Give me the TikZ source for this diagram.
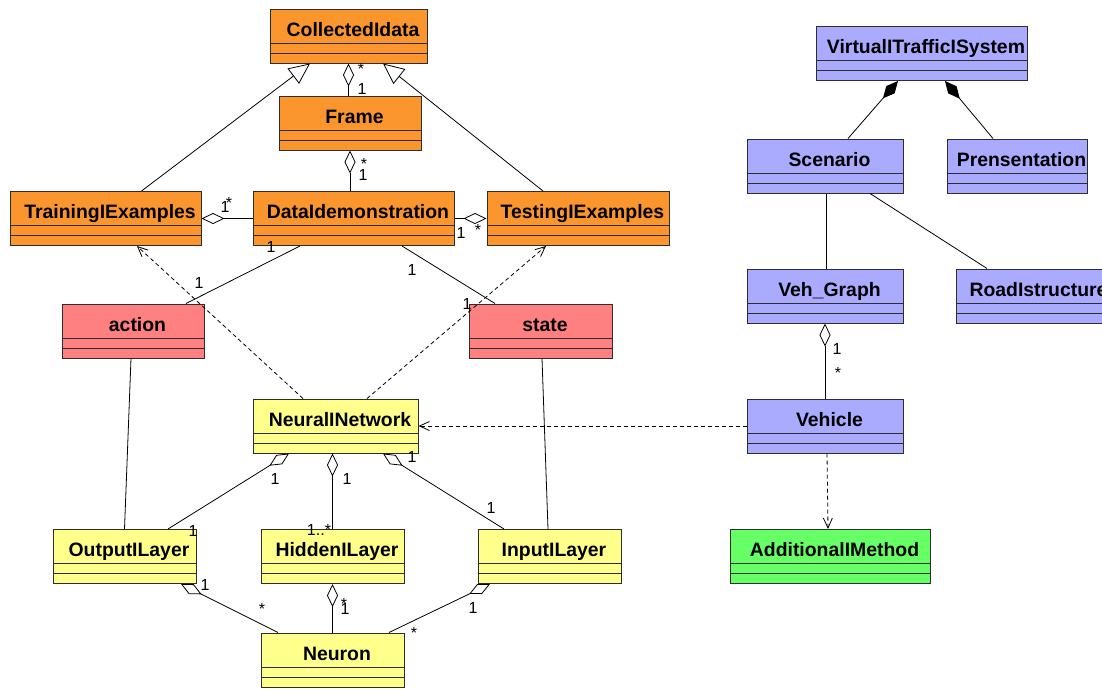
\documentclass[tikz,border=0pt]{standalone}
\usepackage{fontspec}
\setmainfont{Liberation Sans}
\usepackage{xcolor}
\usetikzlibrary{arrows.meta, positioning}
\definecolor{umlorange}{RGB}{250, 150, 45}
\definecolor{umlpink}{RGB}{255, 128, 128}
\definecolor{umlyellow}{RGB}{255, 255, 140}
\definecolor{umlblue}{RGB}{170, 170, 255}
\definecolor{umlgreen}{RGB}{102, 255, 102}
\definecolor{umlborder}{RGB}{45, 45, 45}

\begin{document}
\begin{tikzpicture}[
        x=1pt, y=-1pt,
        cls/.style={rectangle, draw=umlborder, line width=1pt, inner xsep=0pt, inner ysep=0pt,
            text height=27pt, text depth=27pt, font=\fontsize{19.4}{20}\selectfont\bfseries,
            execute at begin node={\hspace*{9pt}},
            path picture={
                \draw[umlborder, line width=1pt] ([yshift=10pt]path picture bounding box.south west) -- ([yshift=10pt]path picture bounding box.south east);
                \draw[umlborder, line width=1pt] ([yshift=20pt]path picture bounding box.south west) -- ([yshift=20pt]path picture bounding box.south east);
            }},
        mult/.style={inner sep=0pt, font=\fontsize{16}{16}\selectfont},
        link/.style={line width=0.8pt},
        gen/.style={link, -{Triangle[open, length=21pt, width=19pt]}},
        agg/.style={link, -{Diamond[open, length=23pt, width=11pt]}},
        comp/.style={link, -{Diamond[length=23pt, width=11pt]}},
        dep/.style={link, dash pattern=on 4pt off 3pt, -{Straight Barb[length=10pt, width=9pt]}}
    ]
        \fill[white] (0,0) rectangle (1102,689);
        \useasboundingbox (0,0) rectangle (1102,689);

        % Collected data
        \node[cls, fill=umlorange, minimum width=157pt] (collected) at (348.5,36) {CollectedIdata};
        \node[cls, fill=umlorange, minimum width=142pt] (frame) at (350,123) {Frame};
        \node[cls, fill=umlorange, minimum width=191pt] (training) at (105.5,218.5) {TrainingIExamples};
        \node[cls, fill=umlorange, minimum width=201pt] (datademo) at (353.5,218.5) {DataIdemonstration};
        \node[cls, fill=umlorange, minimum width=182pt] (testing) at (578,218.5) {TestingIExamples};

        % Action and state
        \node[cls, fill=umlpink, minimum width=142pt] (action) at (133,331) {action};
        \node[cls, fill=umlpink, minimum width=143pt] (state) at (540.5,331) {state};

        % Network
        \node[cls, fill=umlyellow, minimum width=165pt] (nnet) at (335.5,426) {NeuralINetwork};
        \node[cls, fill=umlyellow, minimum width=143pt] (outlayer) at (124.5,556.5) {OutputILayer};
        \node[cls, fill=umlyellow, minimum width=143pt] (hidlayer) at (332.5,556.5) {HiddenILayer};
        \node[cls, fill=umlyellow, minimum width=143pt] (inlayer) at (549.5,556.5) {InputILayer};
        \node[cls, fill=umlyellow, minimum width=143pt] (neuron) at (332.5,660) {Neuron};

        % Traffic system
        \node[cls, fill=umlblue, minimum width=211pt] (vts) at (921.5,53.5) {VirtualITrafficISystem};
        \node[cls, fill=umlblue, minimum width=156pt] (scenario) at (825,166) {Scenario};
        \node[cls, fill=umlblue, minimum width=140pt] (present) at (1017,166) {Prensentation};
        \node[cls, fill=umlblue, minimum width=156pt] (vehgraph) at (825,296) {Veh\_Graph};
        \node[cls, fill=umlblue, minimum width=156pt] (road) at (1034,296) {RoadIstructure};
        \node[cls, fill=umlblue, minimum width=156pt] (vehicle) at (825,426) {Vehicle};
        \node[cls, fill=umlgreen, minimum width=200pt] (addmethod) at (830,556.5) {AdditionalIMethod};

        % Generalizations
        \draw[gen] ([xshift=36pt]training.north) -- ([xshift=-38.5pt]collected.south);
        \draw[gen] ([xshift=-35pt]testing.north) -- ([xshift=34.5pt]collected.south);

        % Aggregations
        \draw[agg] (collected.south |- frame.north) -- (collected.south);
        \draw[agg] (datademo.north -| frame.south) -- (frame.south);
        \draw[agg] (datademo.west) -- (training.east);
        \draw[agg] (datademo.east) -- (testing.west);
        \draw[agg] ([xshift=43.5pt]outlayer.north) -- ([xshift=-46.5pt]nnet.south);
        \draw[agg] (hidlayer.north) -- (hidlayer.north |- nnet.south);
        \draw[agg] ([xshift=-45.5pt]inlayer.north) -- ([xshift=47.5pt]nnet.south);
        \draw[agg] ([xshift=-54.5pt]neuron.north) -- ([xshift=56.5pt]outlayer.south);
        \draw[agg] (neuron.north) -- (neuron.north |- hidlayer.south);
        \draw[agg] ([xshift=56.5pt]neuron.north) -- ([xshift=-59.5pt]inlayer.south);
        \draw[agg] (vehicle.north) -- (vehgraph.south);

        % Compositions
        \draw[comp] ([xshift=23pt]scenario.north) -- ([xshift=-23.5pt]vts.south);
        \draw[comp] ([xshift=-24pt]present.north) -- ([xshift=23.5pt]vts.south);

        % Associations
        \draw[link] ([xshift=-53.5pt]datademo.south) -- ([xshift=53pt]action.north);
        \draw[link] ([xshift=48.5pt]datademo.south) -- ([xshift=-45.5pt]state.north);
        \draw[link] ([xshift=-2pt]action.south) -- (outlayer.north);
        \draw[link] ([xshift=1.5pt]state.south) -- ([xshift=-1.5pt]inlayer.north);
        \draw[link] ([xshift=1pt]scenario.south) -- ([xshift=1pt]vehgraph.north);
        \draw[link] ([xshift=45pt]scenario.south) -- ([xshift=-47pt]road.north);

        % Dependencies
        \draw[dep] ([xshift=-32.5pt]nnet.north) -- ([xshift=31.5pt]training.south);
        \draw[dep] ([xshift=31.5pt]nnet.north) -- ([xshift=-32pt]testing.south);
        \draw[dep] (vehicle.west) -- (nnet.east);
        \draw[dep] ([xshift=2pt]vehicle.south) -- ([xshift=-2pt]addmethod.north);

        % Multiplicities
        \node[mult] (mcf1) at (361,69) {*};
        \node[mult] (mcf2) at (362,89) {1};
        \node[mult] (mfd1) at (364,164) {*};
        \node[mult] (mfd2) at (363,175) {1};
        \node[mult] (mtd1) at (225,207) {1};
        \node[mult] (mtd2) at (229,203) {*};
        \node[mult] (mdt1) at (461,233) {1};
        \node[mult] (mdt2) at (478,230) {*};
        \node[mult] (mda1) at (271,247) {1};
        \node[mult] (mda2) at (199,283) {1};
        \node[mult] (mds1) at (412,270) {1};
        \node[mult] (mds2) at (467,304) {1};
        \node[mult] (mno1) at (275,479) {1};
        \node[mult] (mno2) at (193,531) {1};
        \node[mult] (mnh1) at (347,479) {1};
        \node[mult] (mnh2) at (319,530) {1..*};
        \node[mult] (mni1) at (412,457) {1};
        \node[mult] (mni2) at (491,508) {1};
        \node[mult] (mon1) at (205,585) {1};
        \node[mult] (mon2) at (262,609) {*};
        \node[mult] (mhn1) at (345,609) {1};
        \node[mult] (mhn2) at (344,604) {*};
        \node[mult] (min1) at (473,608) {1};
        \node[mult] (min2) at (414,633) {*};
        \node[mult] (mvv1) at (837,349) {1};
        \node[mult] (mvv2) at (838,373) {*};
    \end{tikzpicture}
\end{document}
